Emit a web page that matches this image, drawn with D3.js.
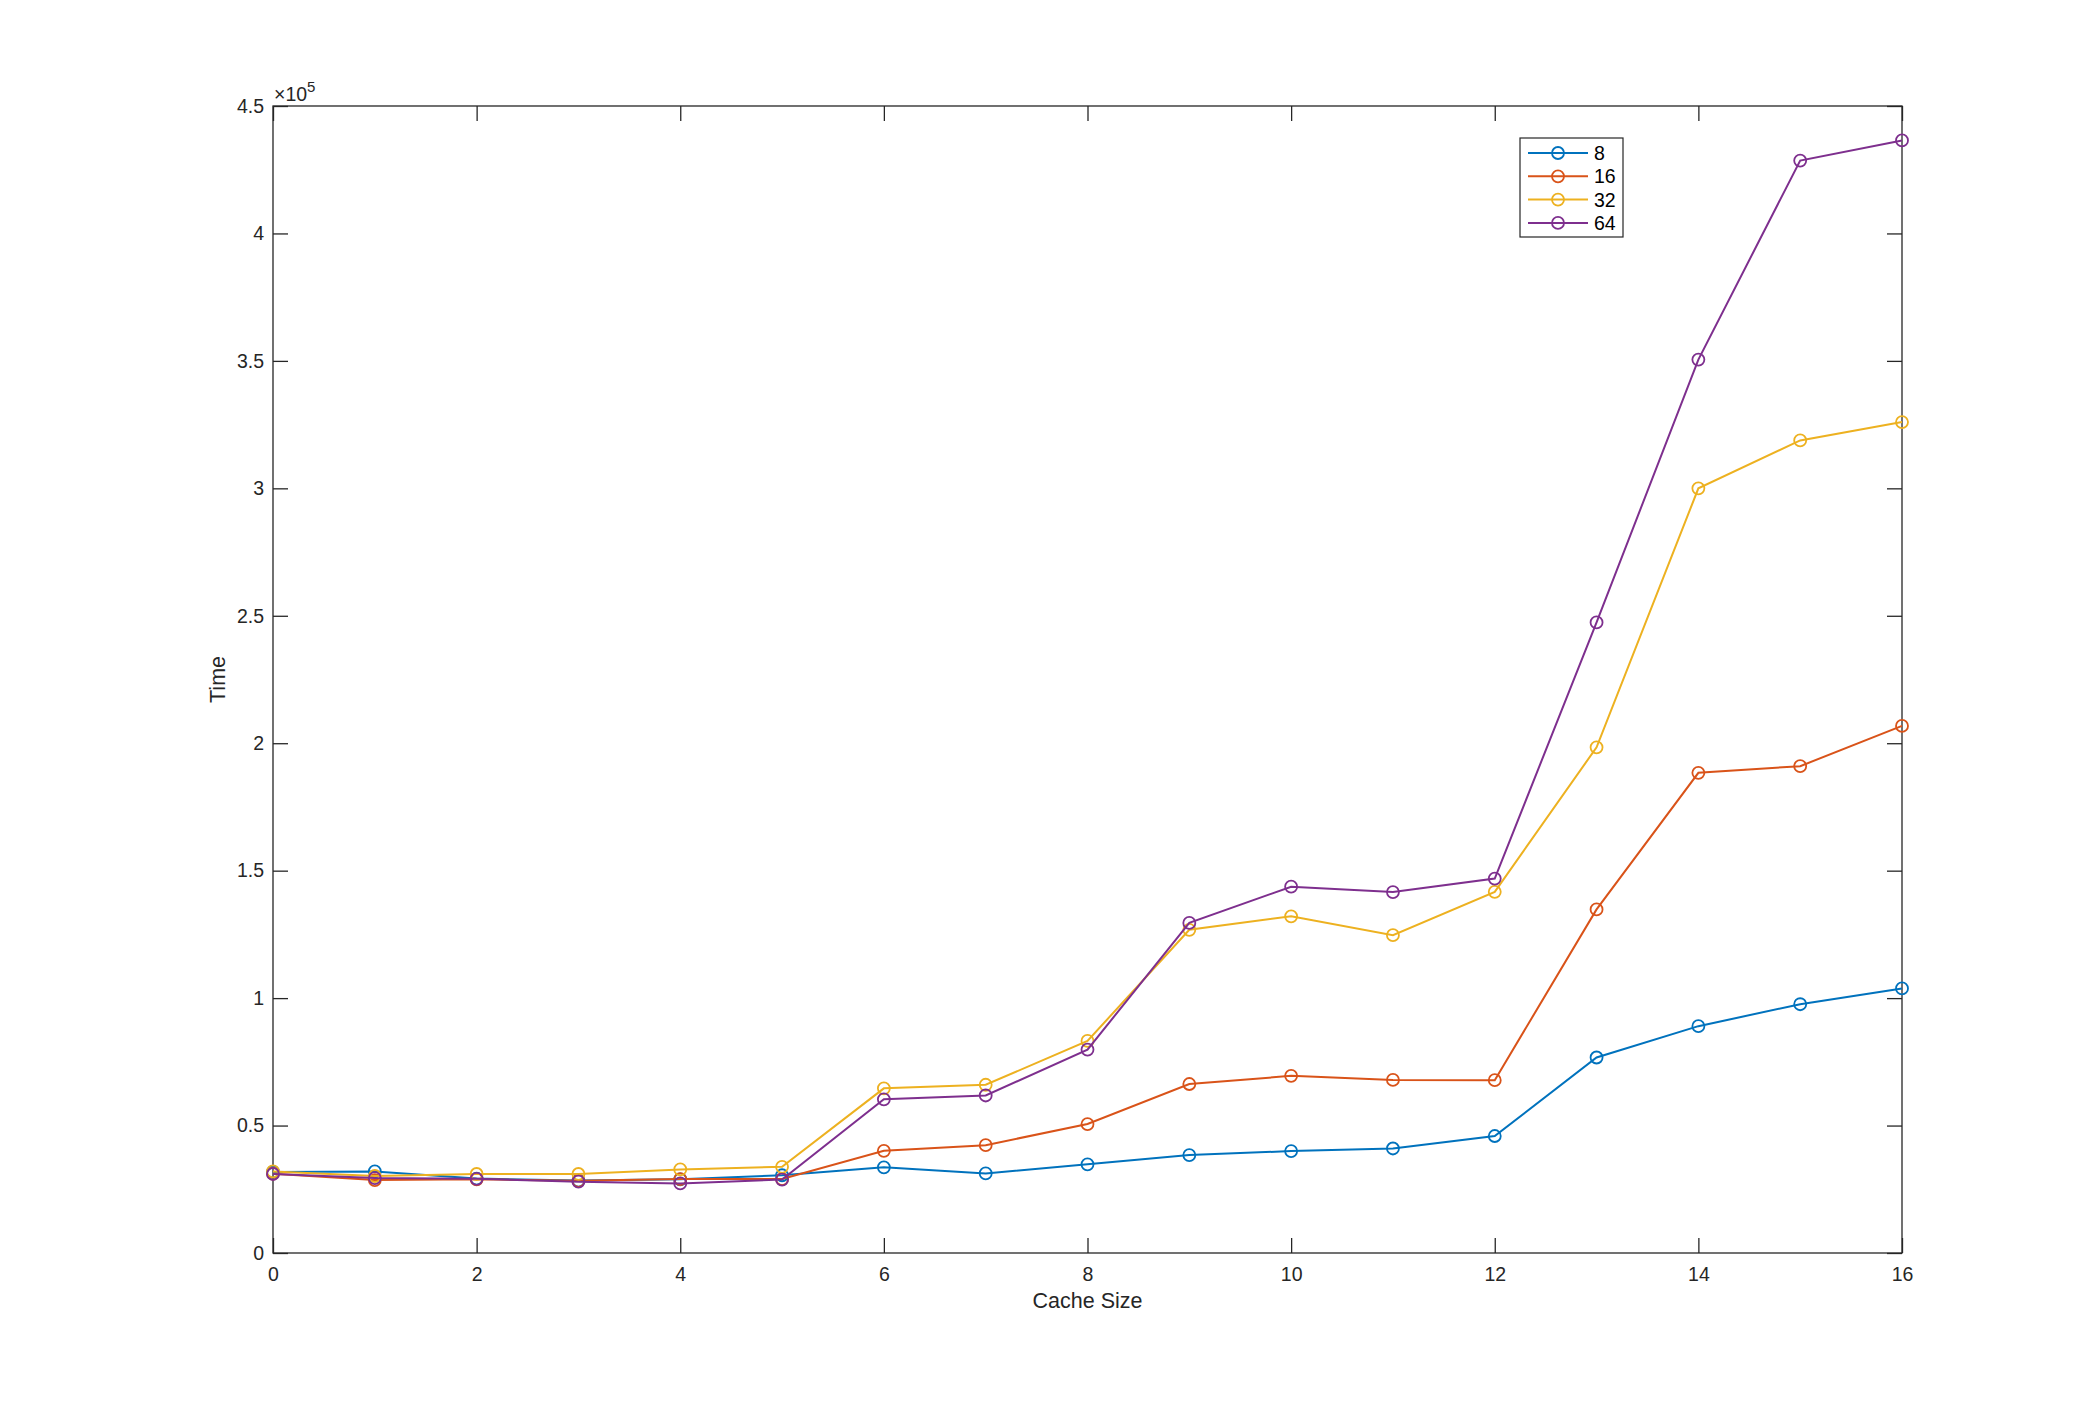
<!DOCTYPE html>
<html>
<head>
<meta charset="utf-8">
<script src="https://cdn.jsdelivr.net/npm/d3@7"></script>
<style>
  html, body { margin: 0; padding: 0; background: #fff; }
  svg { display: block; font-family: Helvetica, "Liberation Sans", Arial, sans-serif; }
</style>
</head>
<body>
<svg id="chart" width="2100" height="1408"></svg>
<script>
// ---- data ----
const cacheSizes = [0,1,2,3,4,5,6,7,8,9,10,11,12,13,14,15,16];
const seriesNames = ["8", "16", "32", "64"];
const series8  = [31800, 32000, 29200, 28400, 28900, 30500, 33600, 31200, 34800, 38400, 40000, 41000, 45900, 76700, 89000, 97600, 103800];
const series16 = [31100, 28600, 28900, 28300, 29000, 29000, 40100, 42300, 50600, 66300, 69500, 67900, 67800, 134800, 188400, 191000, 206800];
const series32 = [32000, 30200, 31000, 31000, 32800, 33800, 64600, 66000, 83200, 126800, 132100, 124700, 141700, 198400, 300000, 318800, 326000];
const series64 = [31000, 29400, 29100, 28000, 27300, 28800, 60300, 61800, 79800, 129500, 143700, 141600, 146900, 247400, 350500, 428600, 436500];
const xTicks = [0,2,4,6,8,10,12,14,16];
const yTicks = [0,50000,100000,150000,200000,250000,300000,350000,400000,450000];
const yTickLabels = ["0","0.5","1","1.5","2","2.5","3","3.5","4","4.5"];
const colors = ["#0072BD", "#D95319", "#EDB120", "#7E2F8E"];
const allSeries = [series8, series16, series32, series64];

// ---- layout ----
const L = 273, R = 1902, T = 106, B = 1253;
const svg = d3.select("#chart");
const x = d3.scaleLinear().domain([0, 16]).range([L, R]);
const y = d3.scaleLinear().domain([0, 450000]).range([B, T]);
const tickLen = 15;
const axisColor = "#262626";
const tickFont = 19.5;
const labelFont = 21.5;

// axes box
svg.append("rect").attr("x", L).attr("y", T).attr("width", R - L).attr("height", B - T)
  .attr("fill", "none").attr("stroke", axisColor).attr("stroke-width", 1.3);

// bottom axis (ticks inside)
const xAxis = d3.axisBottom(x).tickValues(xTicks).tickSizeInner(-tickLen).tickSizeOuter(0).tickPadding(14).tickFormat(d3.format("d"));
const gx = svg.append("g").attr("transform", `translate(0,${B})`).call(xAxis);
gx.select(".domain").remove();
gx.selectAll("line").attr("stroke", axisColor).attr("stroke-width", 1.3);
gx.selectAll("text").attr("fill", axisColor).attr("font-size", tickFont);

// top axis ticks
const gxt = svg.append("g").attr("transform", `translate(0,${T})`)
  .call(d3.axisTop(x).tickValues(xTicks).tickSizeInner(-tickLen).tickSizeOuter(0).tickFormat(""));
gxt.select(".domain").remove();
gxt.selectAll("line").attr("stroke", axisColor).attr("stroke-width", 1.3);

// left axis
const yAxis = d3.axisLeft(y).tickValues(yTicks).tickSizeInner(-tickLen).tickSizeOuter(0).tickPadding(9)
  .tickFormat((d, i) => yTickLabels[i]);
const gy = svg.append("g").attr("transform", `translate(${L},0)`).call(yAxis);
gy.select(".domain").remove();
gy.selectAll("line").attr("stroke", axisColor).attr("stroke-width", 1.3);
gy.selectAll("text").attr("fill", axisColor).attr("font-size", tickFont);

// right axis ticks
const gyr = svg.append("g").attr("transform", `translate(${R},0)`)
  .call(d3.axisRight(y).tickValues(yTicks).tickSizeInner(-tickLen).tickSizeOuter(0).tickFormat(""));
gyr.select(".domain").remove();
gyr.selectAll("line").attr("stroke", axisColor).attr("stroke-width", 1.3);

// exponent label
const ex = svg.append("text").attr("x", L + 1).attr("y", T - 5).attr("fill", axisColor).attr("font-size", tickFont);
ex.append("tspan").text("\u00d710");
ex.append("tspan").attr("dy", -9).attr("font-size", 15).text("5");

// axis labels
svg.append("text").attr("x", (L + R) / 2).attr("y", 1308).attr("text-anchor", "middle")
  .attr("fill", axisColor).attr("font-size", labelFont).text("Cache Size");
svg.append("text").attr("transform", `translate(225,${(T + B) / 2}) rotate(-90)`).attr("text-anchor", "middle")
  .attr("fill", axisColor).attr("font-size", labelFont).text("Time");

// lines
const line = d3.line().x((d, i) => x(cacheSizes[i])).y(d => y(d));
allSeries.forEach((s, k) => {
  svg.append("path").datum(s).attr("d", line).attr("fill", "none")
    .attr("stroke", colors[k]).attr("stroke-width", 2);
  svg.append("g").selectAll("circle").data(s).join("circle")
    .attr("cx", (d, i) => x(cacheSizes[i])).attr("cy", d => y(d)).attr("r", 6)
    .attr("fill", "none").attr("stroke", colors[k]).attr("stroke-width", 1.8);
});

// legend
const lg = svg.append("g");
lg.append("rect").attr("x", 1520).attr("y", 138).attr("width", 103).attr("height", 99)
  .attr("fill", "#fff").attr("stroke", axisColor).attr("stroke-width", 1.2);
seriesNames.forEach((n, k) => {
  const yy = 153 + k * 23.3;
  lg.append("line").attr("x1", 1528).attr("x2", 1588).attr("y1", yy).attr("y2", yy)
    .attr("stroke", colors[k]).attr("stroke-width", 2);
  lg.append("circle").attr("cx", 1558).attr("cy", yy).attr("r", 6)
    .attr("fill", "none").attr("stroke", colors[k]).attr("stroke-width", 1.8);
  lg.append("text").attr("x", 1594).attr("y", yy + 7).attr("fill", "#000").attr("font-size", tickFont).text(n);
});
</script>
</body>
</html>
